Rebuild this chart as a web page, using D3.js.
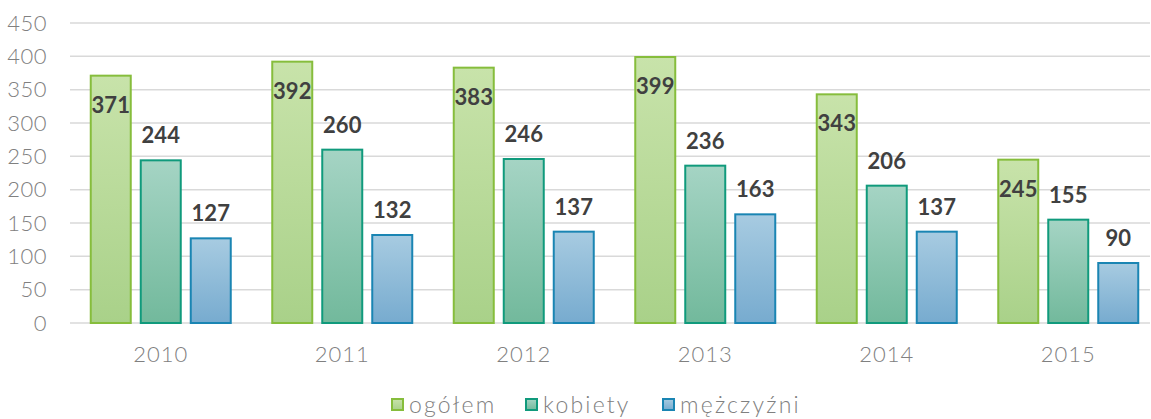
<!DOCTYPE html>
<html>
<head>
<meta charset="utf-8">
<script src="https://cdn.jsdelivr.net/npm/d3@7"></script>
<style>
  body { margin: 0; background: #fff; }
  text { font-family: "Lato", "DejaVu Sans", sans-serif; }
</style>
</head>
<body>
<div id="chart"></div>
<script>
const years = ["2010", "2011", "2012", "2013", "2014", "2015"];
const ogolem = [371, 392, 383, 399, 343, 245];
const kobiety = [244, 260, 246, 236, 206, 155];
const mezczyzni = [127, 132, 137, 163, 137, 90];
const seriesNames = ["ogółem", "kobiety", "mężczyźni"];
const yTicks = [0, 50, 100, 150, 200, 250, 300, 350, 400, 450];

const width = 1151, height = 419;
const svg = d3.select("#chart").append("svg")
    .attr("width", width)
    .attr("height", height);

const styles = [
  { top: "#c8e3aa", bottom: "#a9d189", stroke: "#86bd3c", labelInside: true },
  { top: "#a5d4c4", bottom: "#72b99c", stroke: "#109a7c", labelInside: false },
  { top: "#a7cbe1", bottom: "#77abcf", stroke: "#1a85b3", labelInside: false }
];

const defs = svg.append("defs");
styles.forEach((s, i) => {
  const grad = defs.append("linearGradient")
      .attr("id", "grad" + i)
      .attr("x1", 0).attr("y1", 0).attr("x2", 0).attr("y2", 1);
  grad.append("stop").attr("offset", "0%").attr("stop-color", s.top);
  grad.append("stop").attr("offset", "100%").attr("stop-color", s.bottom);
});

const x0 = d3.scaleBand().domain(years).range([70, 1159]);
const x1 = d3.scaleBand().domain(seriesNames).range([20, x0.bandwidth() - 20]).paddingInner(0.17);
const y = d3.scaleLinear().domain([0, 450]).range([323, 23]);

// siatka
svg.selectAll("line.grid")
    .data(yTicks)
    .join("line")
    .attr("class", "grid")
    .attr("x1", 70).attr("x2", 1150)
    .attr("y1", d => y(d)).attr("y2", d => y(d))
    .attr("stroke", "#d9d9d9")
    .attr("stroke-width", 1.5);

svg.selectAll("text.ytick")
    .data(yTicks)
    .join("text")
    .attr("class", "ytick")
    .attr("x", 47)
    .attr("y", d => y(d) + 7.5)
    .attr("text-anchor", "end")
    .attr("fill", "#808080")
    .attr("font-size", 22)
    .attr("font-weight", 300)
    .attr("letter-spacing", 0.5)
    .text(d => d);

svg.selectAll("text.xtick")
    .data(years)
    .join("text")
    .attr("class", "xtick")
    .attr("x", d => x0(d) + x0.bandwidth() / 2)
    .attr("y", 362)
    .attr("text-anchor", "middle")
    .attr("fill", "#808080")
    .attr("font-size", 22)
    .attr("font-weight", 300)
    .attr("letter-spacing", 1)
    .text(d => d);

const allSeries = [ogolem, kobiety, mezczyzni];
const groups = svg.selectAll("g.year")
    .data(years)
    .join("g")
    .attr("class", "year")
    .attr("transform", d => `translate(${x0(d)},0)`);

groups.selectAll("rect")
    .data((d, yi) => seriesNames.map((s, si) => ({ s, si, v: allSeries[si][yi] })))
    .join("rect")
    .attr("x", d => x1(d.s) + 0.75)
    .attr("width", x1.bandwidth() - 1.5)
    .attr("y", d => y(d.v))
    .attr("height", d => y(0) - y(d.v))
    .attr("fill", d => `url(#grad${d.si})`)
    .attr("stroke", d => styles[d.si].stroke)
    .attr("stroke-width", 2);

groups.selectAll("text.val")
    .data((d, yi) => seriesNames.map((s, si) => ({ s, si, v: allSeries[si][yi] })))
    .join("text")
    .attr("class", "val")
    .attr("x", d => x1(d.s) + x1.bandwidth() / 2)
    .attr("y", d => styles[d.si].labelInside ? y(d.v) + 37 : y(d.v) - 17)
    .attr("text-anchor", "middle")
    .attr("fill", "#404040")
    .attr("font-size", 22)
    .attr("font-weight", "bold")
    .text(d => d.v);

// legenda
const legendX = [392, 526, 663];
const legend = svg.selectAll("g.legend")
    .data(seriesNames)
    .join("g")
    .attr("class", "legend")
    .attr("transform", (d, i) => `translate(${legendX[i]},399)`);
legend.append("rect")
    .attr("width", 11).attr("height", 11)
    .attr("fill", (d, i) => `url(#grad${i})`)
    .attr("stroke", (d, i) => styles[i].stroke)
    .attr("stroke-width", 2);
legend.append("text")
    .attr("x", 17)
    .attr("y", 14)
    .attr("fill", "#808080")
    .attr("font-size", 23)
    .attr("font-weight", 300)
    .attr("letter-spacing", 2.2)
    .text(d => d);
</script>
</body>
</html>
